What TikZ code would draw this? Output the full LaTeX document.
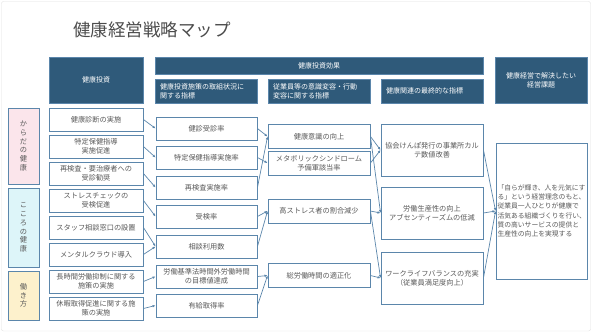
\documentclass[tikz,border=0pt]{standalone}
\usepackage{fontspec}
\setmainfont{Noto Sans CJK JP}
\usetikzlibrary{arrows.meta}
\definecolor{kanban}{HTML}{2F5A7A}
\definecolor{waku}{HTML}{5B86AB}
\definecolor{moji}{HTML}{595959}
\definecolor{karada}{HTML}{FBE5EB}
\definecolor{kokoro}{HTML}{DDF5F9}
\definecolor{hataraki}{HTML}{FDF1CC}

\begin{document}
\begin{tikzpicture}[x=1pt,y=-1pt,
  hako/.style={draw=waku,line width=0.9pt,fill=white,text=moji,align=center,inner sep=1pt,
    font=\fontsize{7.2}{9}\selectfont},
  midashi/.style={fill=kanban,draw=waku,line width=0.6pt,text=white,align=center,inner sep=1pt,
    font=\fontsize{7}{9}\selectfont},
  bunrui/.style={hako,minimum width=31pt,font=\fontsize{7.2}{8.7}\selectfont},
  sen/.style={draw=waku,line width=0.7pt,-{Latex[length=3pt,width=2.6pt]}}]
  \useasboundingbox (0,0) rectangle (592,333);
  \draw[black!12,rounded corners=2pt] (1.5,1.5) rectangle (590.5,331);
  % タイトル
  \node[text=black!70,font=\fontsize{17.5}{20}\selectfont] (title) at (152,30) {健康経営戦略マップ};
  % 見出し
  \node[midashi,minimum width=94pt,minimum height=46pt] (hInv) at (96,80) {健康投資};
  \node[midashi,minimum width=328pt,minimum height=17pt] (hEff) at (319,65.5) {健康投資効果};
  \node[midashi,minimum width=102pt,minimum height=24pt,text width=92pt,align=left,inner xsep=5pt] (hS1) at (206,91) {健康投資施策の取組状況に\\関する指標};
  \node[midashi,minimum width=102pt,minimum height=24pt,text width=92pt,align=left,inner xsep=5pt] (hS2) at (319,91) {従業員等の意識変容・行動\\変容に関する指標};
  \node[midashi,minimum width=102pt,minimum height=24pt,text width=92pt,align=left,inner xsep=5pt] (hS3) at (432,91) {健康関連の最終的な指標};
  \node[midashi,minimum width=92pt,minimum height=46pt] (hIss) at (541,80) {健康経営で解決したい\\経営課題};
  % 分類
  \node[bunrui,fill=karada,minimum height=76pt] (catBody) at (23.5,146) {か\\ら\\だ\\の\\健\\康};
  \node[bunrui,fill=kokoro,minimum height=79pt] (catMind) at (23.5,227.5) {こ\\こ\\ろ\\の\\健\\康};
  \node[bunrui,fill=hataraki,minimum height=49pt] (catWork) at (23.5,295.5) {働\\き\\方};
  % 健康投資
  \begin{scope}[every node/.style={hako,minimum width=94pt,minimum height=23pt}]
    \node (a1) at (96,119.5) {健康診断の実施};
    \node (a2) at (96,146.5) {特定保健指導\\実施促進};
    \node (a3) at (96,173.5) {再検査・要治療者への\\受診勧奨};
    \node (a4) at (96,200.5) {ストレスチェックの\\受検促進};
    \node (a5) at (96,227.5) {スタッフ相談窓口の設置};
    \node (a6) at (96,254.5) {メンタルクラウド導入};
    \node (a7) at (96,281.5) {長時間労働抑制に関する\\施策の実施};
    \node (a8) at (96,308.5) {休暇取得促進に関する施\\策の実施};
  \end{scope}
  % 取組状況の指標
  \begin{scope}[every node/.style={hako,minimum width=101pt,minimum height=23pt}]
    \node (b1) at (206.5,128.5) {健診受診率};
    \node (b2) at (206.5,157.5) {特定保健指導実施率};
    \node (b3) at (206.5,187.5) {再検査実施率};
    \node (b4) at (206.5,216.5) {受検率};
    \node (b5) at (206.5,246.5) {相談利用数};
    \node (b6) at (206.5,276.5) {労働基準法時間外労働時間\\の目標値達成};
    \node (b7) at (206.5,305.5) {有給取得率};
  \end{scope}
  % 意識変容・行動変容の指標
  \begin{scope}[every node/.style={hako,minimum width=102pt,minimum height=24pt}]
    \node (c1) at (319,136.5) {健康意識の向上};
    \node (c2) at (319,163) {メタボリックシンドローム\\予備軍該当率};
    \node (c3) at (319,211) {高ストレス者の割合減少};
    \node (c4) at (319,275.5) {総労働時間の適正化};
  \end{scope}
  % 最終的な指標
  \begin{scope}[every node/.style={hako,minimum width=102pt,minimum height=52pt}]
    \node (d1) at (432,150) {協会けんぽ発行の事業所カル\\テ数値改善};
    \node (d2) at (432,213) {労働生産性の向上\\アブセンティーズムの低減};
    \node (d3) at (432,278) {ワークライフバランスの充実\\（従業員満足度向上）};
  \end{scope}
  % 経営課題
  \node[hako,minimum width=91pt,minimum height=136pt,text width=88pt,align=left,inner xsep=1.5pt,
    font=\fontsize{6.8}{9.3}\selectfont] (e1) at (541.5,211)
    {「自らが輝き、人を元気にす\\る」という経営理念のもと、\\従業員一人ひとりが健康で\\活気ある組織づくりを行い、\\質の高いサービスの提供と\\生産性の向上を実現する};
  % 矢印
  \draw[sen] (a1.east) -- (b1.west);
  \draw[sen] (a2.east) -- (b2.west);
  \draw[sen] (a3.east) -- (b3.west);
  \draw[sen] (a4.east) -- (b4.west);
  \draw[sen] (a5.east) -- (b5.west);
  \draw[sen] (a6.east) -- (b5.west);
  \draw[sen] (a7.east) -- (b6.west);
  \draw[sen] (a8.east) -- (b7.west);
  \draw[sen] (b1.east) -- (c1.west);
  \draw[sen] (b2.east) -- (c2.west);
  \draw[sen] (b3.east) -- (c1.west);
  \draw[sen] (b4.east) -- (c3.west);
  \draw[sen] (b5.east) -- (c3.west);
  \draw[sen] (b6.east) -- (c4.west);
  \draw[sen] (b7.east) -- (c4.west);
  \draw[sen] (c1.east) -- (d1.west);
  \draw[sen] (c2.east) -- (d1.west);
  \draw[sen] (c1.east) -- (d2.west);
  \draw[sen] (c3.east) -- (d2.west);
  \draw[sen] (c3.east) -- (d3.west);
  \draw[sen] (c4.east) -- (d3.west);
  \draw[sen] (d1.east) -- (e1.west);
  \draw[sen] (d2.east) -- (e1.west);
  \draw[sen] (d3.east) -- (e1.west);
\end{tikzpicture}
\end{document}
